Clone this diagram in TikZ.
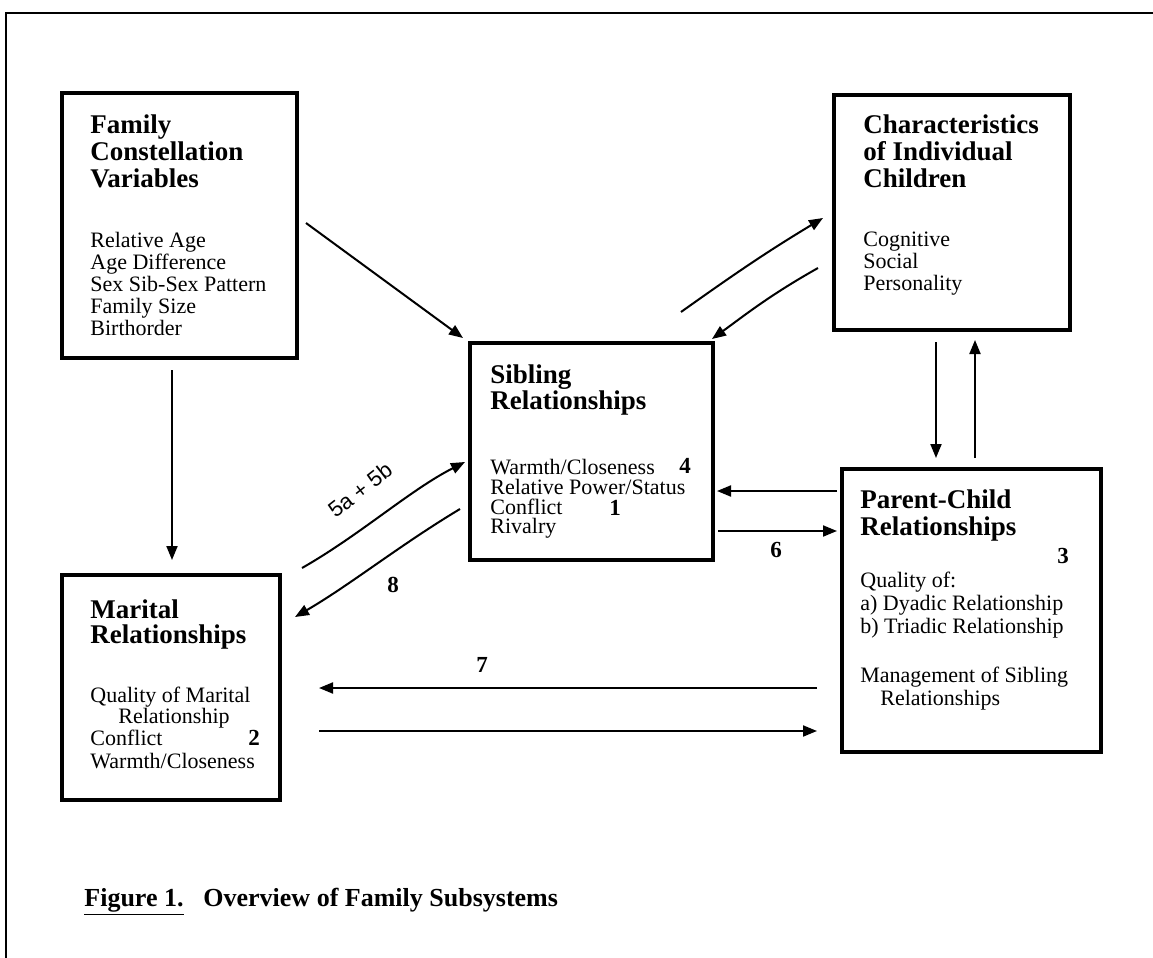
\documentclass[tikz,border=0pt]{standalone}
\usepackage{fontspec}
\setmainfont{Liberation Serif}
\newfontfamily\sansf{Liberation Sans}
\usetikzlibrary{arrows.meta}
\newcommand\ttlfont{\bfseries\fontsize{13.5}{13.5}\selectfont}
\newcommand\bdyfont{\fontsize{11}{11.5}\selectfont}
\newcommand\numfont{\bfseries\fontsize{11.5}{11.5}\selectfont}
\newcommand\capfont{\bfseries\fontsize{13}{13}\selectfont}
\begin{document}
\begin{tikzpicture}[x=0.5pt,y=-0.5pt,
  box/.style={draw, line width=2pt, inner sep=0pt, outer sep=0pt},
  ttl/.style={font=\ttlfont, anchor=base west, inner sep=0pt},
  bdy/.style={font=\bdyfont, anchor=base west, inner sep=0pt},
  num/.style={font=\numfont, anchor=base, inner sep=0pt},
  lbl/.style={font=\numfont, inner sep=0pt},
  arr/.style={-{Triangle[length=7pt,width=5.5pt]}, line width=1pt},
  frame/.style={line width=1.3pt}]
\useasboundingbox (0,0) rectangle (1153,958);
% frame
\coordinate (fr1) at (6,958);
\coordinate (fr2) at (6,13);
\coordinate (fr3) at (1153,13);
\draw[frame] (fr1) -- (fr2) -- (fr3);

% boxes
\node[box, minimum width=117.5pt, minimum height=132.5pt] (fam) at (179.5,225.5) {};
\node[box, minimum width=118pt, minimum height=117.5pt] (chr) at (952,212.5) {};
\node[box, minimum width=121.5pt, minimum height=108.5pt] (sib) at (591.5,451.5) {};
\node[box, minimum width=129.5pt, minimum height=141.5pt] (par) at (971.5,610.5) {};
\node[box, minimum width=109pt, minimum height=112.5pt] (mar) at (171,687.5) {};

% family text
\node[ttl] (famt1) at (90,133) {Family};
\node[ttl] (famt2) at (90,160) {Constellation};
\node[ttl] (famt3) at (90,187) {Variables};
\node[bdy] (famb1) at (90,247) {Relative Age};
\node[bdy] (famb2) at (90,269) {Age Difference};
\node[bdy] (famb3) at (90,291) {Sex Sib-Sex Pattern};
\node[bdy] (famb4) at (90,313) {Family Size};
\node[bdy] (famb5) at (90,335) {Birthorder};

% characteristics text
\node[ttl] (chrt1) at (863,133) {Characteristics};
\node[ttl] (chrt2) at (863,160) {of Individual};
\node[ttl] (chrt3) at (863,187) {Children};
\node[bdy] (chrb1) at (863,246) {Cognitive};
\node[bdy] (chrb2) at (863,268) {Social};
\node[bdy] (chrb3) at (863,290) {Personality};

% sibling text
\node[ttl] (sibt1) at (490,383) {Sibling};
\node[ttl] (sibt2) at (490,409) {Relationships};
\node[bdy] (sibb1) at (490,474) {Warmth/Closeness};
\node[bdy] (sibb2) at (490,494) {Relative Power/Status};
\node[bdy] (sibb3) at (490,514) {Conflict};
\node[bdy] (sibb4) at (490,533) {Rivalry};
\node[num] (n4) at (685,473) {4};
\node[num] (n1) at (615,515) {1};

% parent-child text
\node[ttl] (part1) at (860,508) {Parent-Child};
\node[ttl] (part2) at (860,535) {Relationships};
\node[num] (n3) at (1063,563) {3};
\node[bdy] (parb1) at (860,587) {Quality of:};
\node[bdy] (parb2) at (860,610) {a) Dyadic Relationship};
\node[bdy] (parb3) at (860,633) {b) Triadic Relationship};
\node[bdy] (parb4) at (860,682) {Management of Sibling};
\node[bdy] (parb5) at (880,705) {Relationships};

% marital text
\node[ttl] (mart1) at (90,618) {Marital};
\node[ttl] (mart2) at (90,643) {Relationships};
\node[bdy] (marb1) at (90,702) {Quality of Marital};
\node[bdy] (marb2) at (118,723) {Relationship};
\node[bdy] (marb3) at (90,745) {Conflict};
\node[num] (n2) at (254,745) {2};
\node[bdy] (marb4) at (90,768) {Warmth/Closeness};

% connector end points
\coordinate (a1s) at (306,223);  \coordinate (a1e) at (463,338);
\coordinate (a2s) at (681,312);  \coordinate (a2e) at (823,218);
\coordinate (a3s) at (818,268);  \coordinate (a3e) at (712,339);
\coordinate (a4s) at (172,370);  \coordinate (a4e) at (172,560);
\coordinate (a5s) at (936,342);  \coordinate (a5e) at (936,458);
\coordinate (a6s) at (975,458);  \coordinate (a6e) at (975,340);
\coordinate (a7s) at (837,491);  \coordinate (a7e) at (717,491);
\coordinate (a8s) at (718,531);  \coordinate (a8e) at (837,531);
\coordinate (a9s) at (302,568);  \coordinate (a9e) at (465,462);
\coordinate (a10s) at (460,509); \coordinate (a10e) at (295,617);
\coordinate (a11s) at (817,688); \coordinate (a11e) at (319,688);
\coordinate (a12s) at (319,731); \coordinate (a12e) at (817,731);

\draw[arr] (a1s) -- (a1e);
\draw[arr] (a2s) .. controls (740,270) and (770,250) .. (a2e);
\draw[arr] (a3s) .. controls (770,295) and (745,315) .. (a3e);
\draw[arr] (a4s) -- (a4e);
\draw[arr] (a5s) -- (a5e);
\draw[arr] (a6s) -- (a6e);
\draw[arr] (a7s) -- (a7e);
\draw[arr] (a8s) -- (a8e);
\draw[arr] (a9s) .. controls (360,535) and (410,490) .. (a9e);
\draw[arr] (a10s) .. controls (400,545) and (350,585) .. (a10e);
\draw[arr] (a11s) -- (a11e);
\draw[arr] (a12s) -- (a12e);

% connector labels
\node[font=\sansf\fontsize{11}{11}\selectfont, rotate=38, inner sep=0pt] (l5) at (360,490) {5a + 5b};
\node[lbl] (l8) at (393,585) {8};
\node[lbl] (l7) at (482,665) {7};
\node[lbl] (l6) at (776,550) {6};

% caption
\node[font=\capfont, anchor=base west, inner sep=0pt] (cap1) at (84,906) {\underline{Figure 1.}};
\node[font=\capfont, anchor=base west, inner sep=0pt] (cap2) at (203,906) {Overview of Family Subsystems};
\end{tikzpicture}
\end{document}
